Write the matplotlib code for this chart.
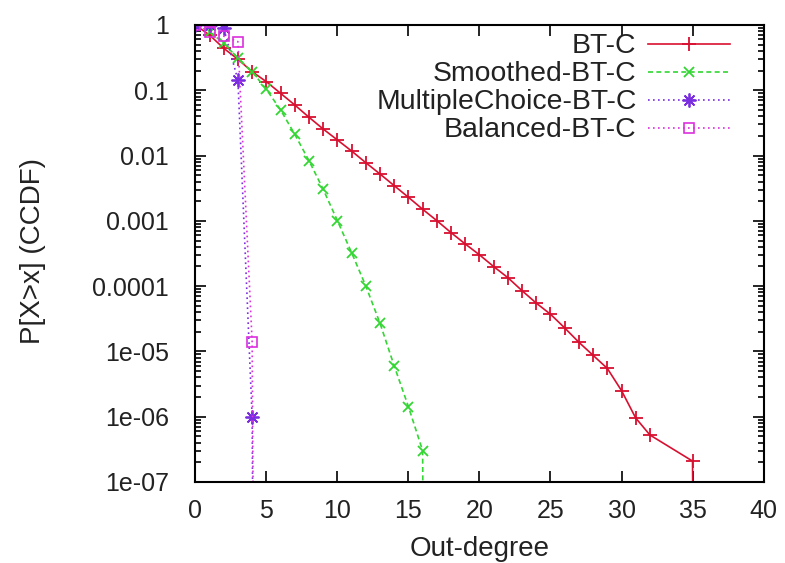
import numpy as np
import matplotlib
matplotlib.use("Agg")
import matplotlib.pyplot as plt
from matplotlib.ticker import LogLocator, FixedLocator, FuncFormatter

# CCDF of out-degree (log10 scale)
# the last entry of each series is the "drop to zero" point
bt_x = list(range(0, 33)) + [35, 36]
bt_log = [0.0, -0.153, -0.357, -0.525, -0.715, -0.868, -1.046, -1.225, -1.413,
          -1.593, -1.761, -1.930, -2.109, -2.282, -2.461, -2.639, -2.822, -2.997,
          -3.18, -3.354, -3.52, -3.70, -3.87, -4.07, -4.26, -4.43, -4.64, -4.86,
          -5.06, -5.26, -5.60, -6.02, -6.28, -6.68, -40.0]

sm_x = list(range(0, 18))
sm_log = [0.0, -0.10, -0.28, -0.51, -0.715, -0.985, -1.30, -1.674, -2.078,
          -2.516, -2.997, -3.487, -3.997, -4.568, -5.222, -5.845, -6.519, -40.0]

mc_x = [0, 1, 2, 3, 4, 5]
mc_log = [0.0, 0.0, -0.05, -0.843, -6.0, -40.0]

bal_x = [0, 1, 2, 3, 4, 5]
bal_log = [0.0, -0.10, -0.17, -0.256, -4.85, -40.0]

labels = ["BT-C", "Smoothed-BT-C", "MultipleChoice-BT-C", "Balanced-BT-C"]
xticks = [0, 5, 10, 15, 20, 25, 30, 35, 40]
yticks = [1, 0.1, 0.01, 0.001, 0.0001, 1e-05, 1e-06, 1e-07]
ytick_labels = ["1", "0.1", "0.01", "0.001", "0.0001", "1e-05", "1e-06", "1e-07"]

plt.rcParams['font.family'] = ['Liberation Sans', 'DejaVu Sans']
fs = 18
fs_lab = 20
fs_leg = 20.4
txt_col = '#222222'

fig = plt.figure(figsize=(7.85, 5.63), dpi=100)
ax = fig.add_axes([0.2488, 0.1439, 0.7239, 0.8117])

ax.plot(bt_x, 10 ** np.array(bt_log), color='#d81030', lw=1.2, ls='-',
        marker='+', ms=10, mew=1.3, label=labels[0])
ax.plot(sm_x, 10 ** np.array(sm_log), color='#33d633', lw=1.2, ls=(0, (3, 2)),
        marker='x', ms=7, mew=1.3, label=labels[1])
ax.plot(mc_x, 10 ** np.array(mc_log), color='#7a2ee0', lw=1.2, ls=(0, (1, 2)),
        marker=(8, 2, 0), ms=10, mew=1.3, label=labels[2])
ax.plot(bal_x, 10 ** np.array(bal_log), color='#dd30dd', lw=1.2, ls=(0, (1, 2)),
        marker='s', ms=7, mfc='none', mew=1.2, label=labels[3])

ax.set_yscale('log')
ax.set_xlim(0, 40)
ax.set_ylim(1e-7, 1)
ax.xaxis.set_major_locator(FixedLocator(xticks))
ax.yaxis.set_major_locator(FixedLocator(yticks))
ax.yaxis.set_major_formatter(FuncFormatter(
    lambda v, p: ytick_labels[int(np.argmin([abs(np.log10(t) - np.log10(v)) for t in yticks]))]))
ax.yaxis.set_minor_locator(LogLocator(base=10, subs=np.arange(2, 10)))
ax.yaxis.set_minor_formatter(FuncFormatter(lambda v, p: ""))

ax.tick_params(which='both', direction='in', top=True, right=True,
               labelsize=fs, width=1.2, labelcolor=txt_col)
ax.tick_params(which='major', length=8)
ax.tick_params(which='minor', length=4)
ax.tick_params(axis='y', pad=19)
ax.tick_params(axis='x', pad=12)
for s in ax.spines.values():
    s.set_linewidth(1.5)

ax.set_xlabel("Out-degree", fontsize=fs_lab, color=txt_col)
ax.set_ylabel("P[X>x] (CCDF)", fontsize=fs_lab, color=txt_col)
ax.xaxis.set_label_coords(0.5, -0.118)
ax.yaxis.set_label_coords(-0.262, 0.505)

leg = ax.legend(loc='upper right', bbox_to_anchor=(0.93, 0.9405),
                bbox_transform=fig.transFigure, frameon=False, markerfirst=False,
                fontsize=fs_leg, handlelength=2.9, handletextpad=0.4,
                labelspacing=0.07, borderpad=0, borderaxespad=0)
for t in leg.get_texts():
    t.set_color(txt_col)

fig.savefig("out.png", dpi=100)
